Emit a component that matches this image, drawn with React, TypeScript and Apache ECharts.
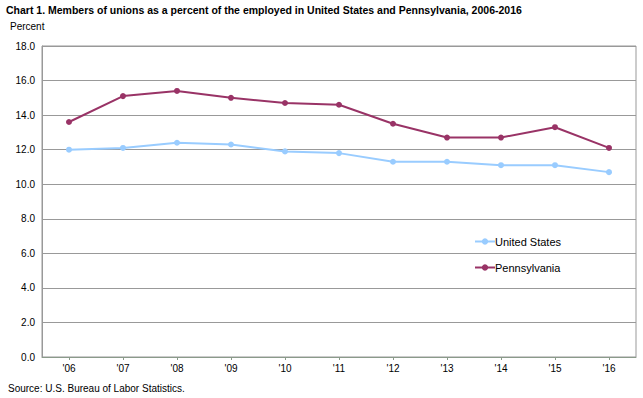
import React, { useEffect, useRef } from "react";
import * as echarts from "echarts";

const categories = ["'06", "'07", "'08", "'09", "'10", "'11", "'12", "'13", "'14", "'15", "'16"];
const usValues = [12.0, 12.1, 12.4, 12.3, 11.9, 11.8, 11.3, 11.3, 11.1, 11.1, 10.7];
const paValues = [13.6, 15.1, 15.4, 15.0, 14.7, 14.6, 13.5, 12.7, 12.7, 13.3, 12.1];
const titleText = "Chart 1. Members of unions as a percent of the employed in United States and Pennsylvania, 2006-2016";
const sourceText = "Source: U.S. Bureau of Labor Statistics.";

const FONT = "'Liberation Sans', Arial, sans-serif";

export default function App() {
  const ref = useRef<HTMLDivElement>(null);
  useEffect(() => {
    if (!ref.current) return;
    const chart = echarts.init(ref.current, null, { renderer: "svg" });
    chart.setOption({
      animation: false,
      backgroundColor: "#ffffff",
      textStyle: { fontFamily: FONT },
      title: [
        {
          text: titleText,
          left: 1,
          top: -1,
          textStyle: { fontSize: 10.5, fontWeight: "bold", color: "#000", fontFamily: FONT },
        },
      ],
      graphic: [
        {
          type: "text",
          left: 10,
          top: 21,
          style: { text: "Percent", fontSize: 10, fill: "#000", fontFamily: FONT },
        },
        {
          type: "text",
          left: 8,
          top: 383,
          style: { text: sourceText, fontSize: 10, fill: "#000", fontFamily: FONT },
        },
      ],
      legend: {
        orient: "vertical",
        left: 469,
        top: 231,
        itemGap: 15,
        itemWidth: 20,
        itemHeight: 8,
        textStyle: { fontSize: 11, color: "#000", fontFamily: FONT, padding: [0, 0, 0, -5] },
        data: ["United States", "Pennsylvania"],
      },
      grid: {
        left: 42,
        right: 7,
        top: 46,
        bottom: 41,
        show: true,
        borderColor: "#999",
        borderWidth: 1,
        containLabel: false,
      },
      xAxis: {
        type: "category",
        data: categories,
        boundaryGap: true,
        axisLine: { show: true, lineStyle: { color: "#8a9a8a" } },
        axisTick: { show: true, alignWithLabel: true, length: 3, inside: false, lineStyle: { color: "#8a9a8a" } },
        axisLabel: { fontSize: 10, color: "#000", margin: 6, fontFamily: FONT },
        splitLine: { show: false },
      },
      yAxis: {
        type: "value",
        min: 0,
        max: 18,
        interval: 2,
        axisLine: { show: true, lineStyle: { color: "#999" } },
        axisTick: { show: false },
        axisLabel: {
          fontSize: 10,
          color: "#000",
          margin: 7,
          fontFamily: FONT,
          formatter: (v: number) => v.toFixed(1),
        },
        splitLine: { show: true, lineStyle: { color: "#999", width: 1 } },
      },
      series: [
        {
          name: "United States",
          type: "line",
          data: usValues,
          symbol: "circle",
          symbolSize: 6,
          itemStyle: { color: "#99ccff" },
          lineStyle: { color: "#99ccff", width: 2 },
        },
        {
          name: "Pennsylvania",
          type: "line",
          data: paValues,
          symbol: "circle",
          symbolSize: 6,
          itemStyle: { color: "#993366" },
          lineStyle: { color: "#993366", width: 2 },
        },
      ],
    });
    return () => chart.dispose();
  }, []);
  return <div ref={ref} style={{ width: 643, height: 398, position: "absolute", left: 0, top: 0 }} />;
}
